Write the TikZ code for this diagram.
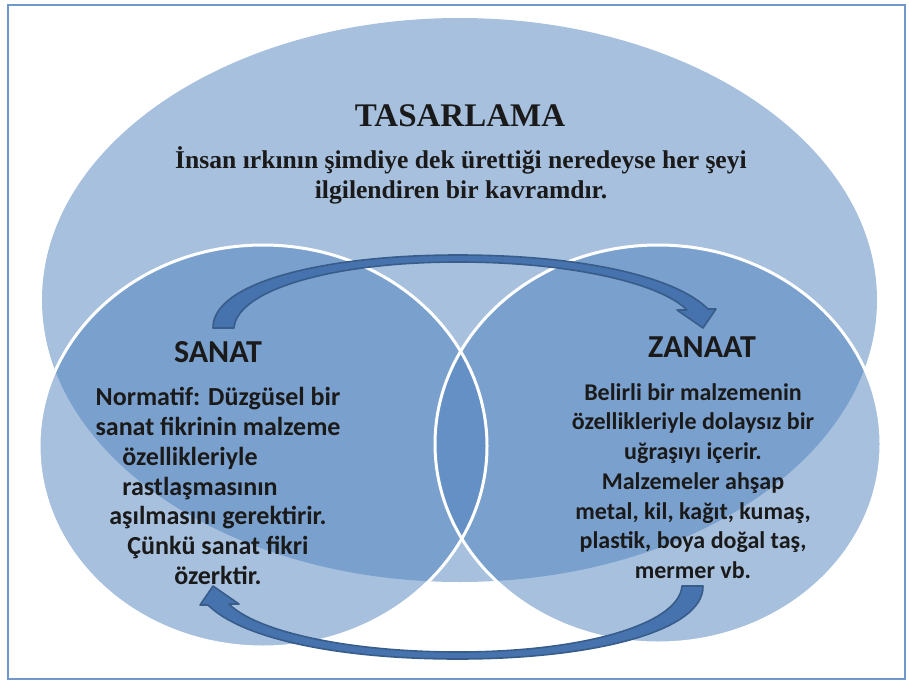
\documentclass[tikz,border=0pt]{standalone}
\usepackage{fontspec}
\setmainfont{Liberation Serif}
\newfontfamily\carlito{Carlito}
\definecolor{accent}{HTML}{4F81BD}
\definecolor{arrowfill}{HTML}{4672AD}
\definecolor{arrowline}{HTML}{385D8A}
\definecolor{framecol}{HTML}{7097CC}
\definecolor{inkcol}{HTML}{1A1A1A}
\tikzset{
  setfill/.style={fill=accent,fill opacity=0.5,draw=none},
  setline/.style={draw=white,line width=3pt},
  arrowbody/.style={fill=arrowfill,draw=arrowline,line width=1.6pt,line join=round},
  titletext/.style={font=\bfseries\fontsize{33}{38}\selectfont,text=inkcol},
  subtext/.style={font=\bfseries\fontsize{25.6}{30}\selectfont,text=inkcol,align=center},
  headtext/.style={font=\carlito\bfseries\fontsize{32}{36}\selectfont,text=inkcol},
  bodytext/.style={font=\carlito\bfseries\fontsize{24}{29.7}\selectfont,text=inkcol,align=center},
  bodybig/.style={bodytext,font=\carlito\bfseries\fontsize{26}{29.7}\selectfont},
  curvedarrow/.pic={
    \path[arrowbody] (213,328)
      .. controls (212,283) and (322,255) .. (458,255)
      .. controls (580,255) and (675,276) .. (708,309)
      -- (716,309) -- (703,328) -- (677,310) -- (687,310)
      .. controls (660,283) and (570,262) .. (458,262)
      .. controls (332,262) and (237,290) .. (234,328)
      -- cycle;
  }
}
\begin{document}
\begin{tikzpicture}[x=1pt,y=-1pt]
\useasboundingbox (0,0) rectangle (909,682);
\draw[framecol,line width=1.3pt] (8,5) rectangle (905,679);
% sets
\path[setfill] (459.5,300) ellipse [x radius=417.5, y radius=282];
\path[setfill] (263,446) ellipse [x radius=224, y radius=201];
\path[setfill] (658,444) ellipse [x radius=223, y radius=199];
\path[setline] (263,446) ellipse [x radius=224, y radius=201];
\path[setline] (658,444) ellipse [x radius=223, y radius=199];
% arrows
\pic at (0,0) {curvedarrow};
\pic[rotate=180] at (916,914) {curvedarrow};
% texts
\node[titletext] (title) at (460,116) {TASARLAMA};
\node[subtext] (sub) at (461,175) {İnsan ırkının şimdiye dek ürettiği neredeyse her şeyi\\ilgilendiren bir kavramdır.};
\node[headtext] (sanat) at (218,352) {SANAT};
\node[headtext] (zanaat) at (702,347) {ZANAAT};
\node[bodybig] (sanatbody) at (218,486) {Normatif: Düzgüsel bir\\sanat fikrinin malzeme\\özellikleriyle\rule{56pt}{0pt}\\rastlaşmasının\rule{36pt}{0pt}\\aşılmasını gerektirir.\\Çünkü sanat fikri\\özerktir.};
\node[bodytext] (zanaatbody) at (693,481) {Belirli bir malzemenin\\özellikleriyle dolaysız bir\\uğraşıyı içerir.\\Malzemeler ahşap\\metal, kil, kağıt, kumaş,\\plastik, boya doğal taş,\\mermer vb.};
\end{tikzpicture}
\end{document}
